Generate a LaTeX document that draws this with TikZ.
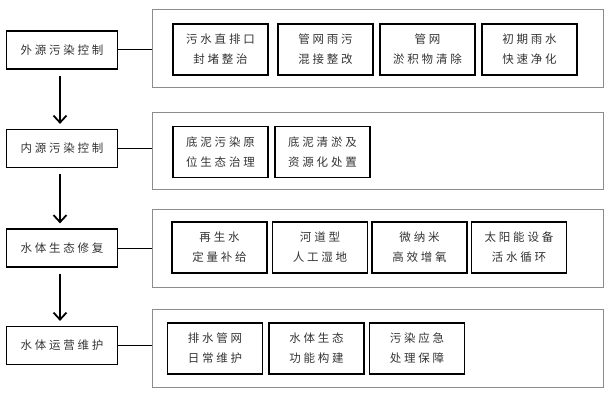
\documentclass[tikz,border=0pt]{standalone}
\usepackage{fontspec}
\newfontfamily\cjk[LetterSpace=24]{Noto Sans CJK SC}
\usetikzlibrary{arrows.meta}
\begin{document}
\begin{tikzpicture}[x=1pt,y=-1pt,
  every node/.style={font=\cjk\fontsize{11.5pt}{20pt}\selectfont, text=black!80, align=center, inner sep=0pt},
  leftbox/.style={draw=black, line width=1.2pt, minimum width=111pt, minimum height=38pt},
  groupbox/.style={draw=black!45, line width=0.9pt, minimum width=451pt, minimum height=78pt},
  itembox/.style={draw=black, line width=1.2pt, minimum width=95pt, minimum height=51pt},
  flow/.style={line width=2pt, -{Straight Barb[length=7pt,width=13pt,line width=1.8pt]}, shorten <=6pt, shorten >=5pt},
  link/.style={line width=1pt}]
\useasboundingbox (0,0) rectangle (610,401);
% left column
\node[leftbox] (a) at (62,50) {外源污染控制};
\node[leftbox] (b) at (62,148.5) {内源污染控制};
\node[leftbox] (c) at (62,248) {水体生态修复};
\node[leftbox] (d) at (62,345.5) {水体运营维护};
% group boxes
\node[groupbox] (ga) at (377.5,48) {};
\node[groupbox,minimum height=77pt] (gb) at (377.5,150.5) {};
\node[groupbox] (gc) at (377.5,248) {};
\node[groupbox] (gd) at (377.5,348) {};
% row 1
\node[itembox] (a1) at (220.5,49.5) {污水直排口\\封堵整治};
\node[itembox] (a2) at (325.5,49.5) {管网雨污\\混接整改};
\node[itembox] (a3) at (427.5,49.5) {管网\\淤积物清除};
\node[itembox] (a4) at (529.5,49.5) {初期雨水\\快速净化};
% row 2
\node[itembox] (b1) at (220.5,152) {底泥污染原\\位生态治理};
\node[itembox] (b2) at (322.5,152) {底泥清淤及\\资源化处置};
% row 3
\node[itembox] (c1) at (219.5,247.5) {再生水\\定量补给};
\node[itembox] (c2) at (320,247.5) {河道型\\人工湿地};
\node[itembox] (c3) at (419.5,247.5) {微纳米\\高效增氧};
\node[itembox] (c4) at (519,247.5) {太阳能设备\\活水循环};
% row 4
\node[itembox] (d1) at (215,348.5) {排水管网\\日常维护};
\node[itembox] (d2) at (316.5,348.5) {水体生态\\功能构建};
\node[itembox] (d3) at (417,348.5) {污染应急\\处理保障};
% arrows
\draw[flow] ([xshift=-2pt]a.south) -- ([xshift=-2pt]b.north);
\draw[flow] ([xshift=-2pt]b.south) -- ([xshift=-2pt]c.north);
\draw[flow] ([xshift=-2pt]c.south) -- ([xshift=-2pt]d.north);
% links
\draw[link] (a.east) -- (ga.west |- a.east);
\draw[link] (b.east) -- (gb.west |- b.east);
\draw[link] (c.east) -- (gc.west |- c.east);
\draw[link] (d.east) -- (gd.west |- d.east);
\end{tikzpicture}
\end{document}
